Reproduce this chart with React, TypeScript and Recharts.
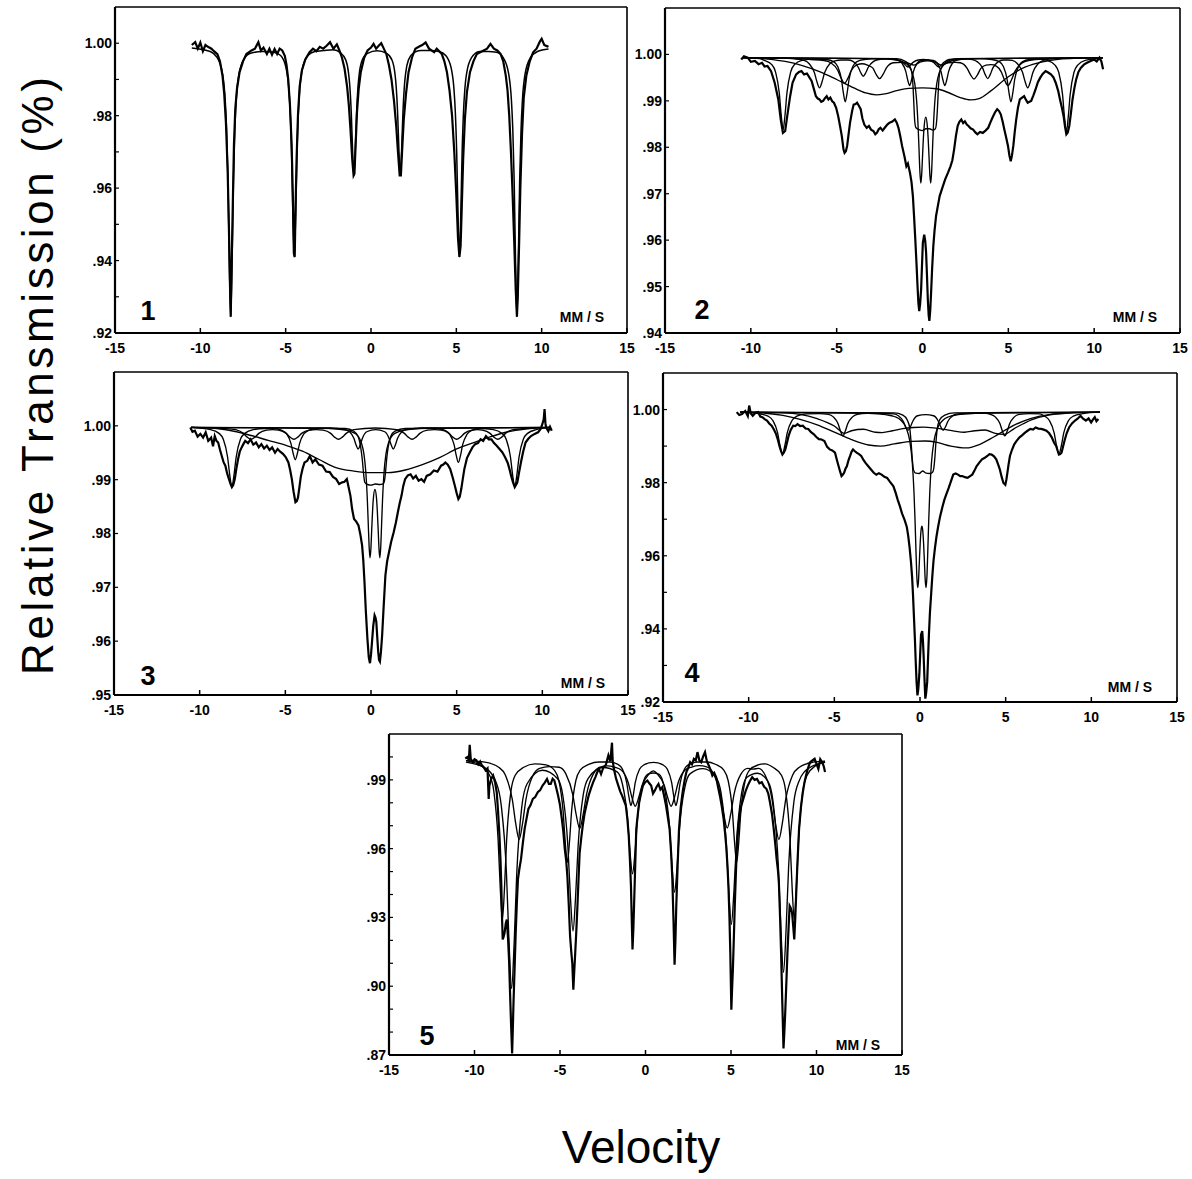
import React from 'react';
import { LineChart, Line, XAxis, YAxis } from 'recharts';

type Pt = [number, number];

// ---------- Panel 1 ----------
const p1Data: Pt[] = [
[-10.5,0.9995],[-10.3,1.0003],[-10.15,0.9985],[-10.0,1.0002],[-9.85,0.9978],[-9.7,0.9995],[-9.55,0.999],[-9.35,0.9985],[-9.2,0.9978],[-9.0,0.997],[-8.85,0.995],[-8.7,0.991],[-8.6,0.986],[-8.5,0.978],[-8.4,0.965],[-8.33,0.95],[-8.27,0.935],[-8.22,0.9245],[-8.17,0.938],[-8.1,0.955],[-8.03,0.972],[-7.95,0.982],[-7.85,0.9875],[-7.7,0.992],[-7.5,0.995],[-7.3,0.997],[-7.0,0.998],[-6.8,0.9985],[-6.6,1.0003],[-6.45,0.998],[-6.3,0.9988],[-6.1,0.997],[-5.95,0.9985],[-5.8,0.9968],[-5.65,0.9984],[-5.5,0.997],[-5.35,0.9985],[-5.2,0.998],[-5.05,0.9965],[-4.95,0.994],[-4.85,0.99],[-4.75,0.983],[-4.65,0.972],[-4.58,0.958],[-4.52,0.942],[-4.47,0.941],[-4.42,0.955],[-4.36,0.968],[-4.28,0.98],[-4.18,0.988],[-4.05,0.9925],[-3.85,0.9955],[-3.6,0.9975],[-3.4,0.9985],[-3.2,0.9978],[-3.0,0.999],[-2.8,0.9985],[-2.6,0.9993],[-2.4,1.0003],[-2.2,0.9985],[-2.0,0.9997],[-1.85,0.998],[-1.7,0.996],[-1.55,0.993],[-1.4,0.988],[-1.3,0.983],[-1.2,0.976],[-1.1,0.968],[-1.02,0.9635],[-0.97,0.964],[-0.9,0.972],[-0.82,0.981],[-0.72,0.9875],[-0.6,0.992],[-0.4,0.996],[-0.2,0.998],[0.0,0.9988],[0.15,0.9998],[0.3,0.9985],[0.45,0.9993],[0.6,1.0],[0.75,0.9985],[0.9,0.997],[1.05,0.994],[1.2,0.99],[1.35,0.984],[1.48,0.977],[1.58,0.97],[1.68,0.9635],[1.75,0.9635],[1.82,0.97],[1.92,0.979],[2.05,0.986],[2.2,0.992],[2.4,0.996],[2.6,0.9985],[2.8,0.999],[3.0,0.9995],[3.2,1.0002],[3.4,0.9985],[3.55,0.998],[3.7,0.9975],[3.85,0.9985],[4.0,0.9978],[4.15,0.997],[4.3,0.995],[4.45,0.992],[4.6,0.987],[4.75,0.98],[4.88,0.97],[5.0,0.958],[5.1,0.946],[5.18,0.941],[5.25,0.944],[5.32,0.955],[5.4,0.968],[5.5,0.979],[5.62,0.9865],[5.8,0.992],[6.0,0.995],[6.2,0.997],[6.4,0.9975],[6.6,0.998],[6.8,0.9985],[7.0,0.9998],[7.2,0.9985],[7.4,0.998],[7.6,0.997],[7.75,0.995],[7.9,0.991],[8.0,0.987],[8.1,0.98],[8.2,0.97],[8.3,0.958],[8.4,0.944],[8.48,0.932],[8.55,0.9245],[8.6,0.93],[8.68,0.945],[8.75,0.96],[8.85,0.975],[8.95,0.985],[9.1,0.991],[9.3,0.995],[9.5,0.9975],[9.7,0.9985],[9.9,1.0005],[10.0,1.0012],[10.15,0.9995],[10.3,0.9992],[10.4,0.999]
];
const p1Fit: Pt[] = [
[-10.5,0.9987],[-9.42,0.9977],[-9.02,0.9961],[-8.7,0.9916],[-8.54,0.9841],[-8.46,0.976],[-8.38,0.9618],[-8.3,0.9394],[-8.22,0.9245],[-8.14,0.9394],[-8.06,0.9618],[-7.98,0.976],[-7.9,0.9841],[-7.74,0.9915],[-7.42,0.9958],[-7.02,0.9973],[-6.36,0.9977],[-5.695,0.9975],[-5.295,0.9966],[-4.975,0.9931],[-4.815,0.9874],[-4.735,0.9811],[-4.655,0.97],[-4.575,0.9526],[-4.495,0.941],[-4.415,0.9526],[-4.335,0.97],[-4.255,0.9811],[-4.175,0.9874],[-4.015,0.9931],[-3.695,0.9966],[-3.295,0.9977],[-2.75,0.998],[-2.2,0.9982],[-1.8,0.9974],[-1.48,0.9954],[-1.32,0.9919],[-1.24,0.9881],[-1.16,0.9813],[-1.08,0.9706],[-1.0,0.9635],[-0.92,0.9706],[-0.84,0.9813],[-0.76,0.9881],[-0.68,0.9919],[-0.52,0.9953],[-0.2,0.9972],[0.36,0.9979],[0.915,0.9972],[1.235,0.9953],[1.395,0.9919],[1.475,0.9881],[1.555,0.9813],[1.635,0.9706],[1.715,0.9635],[1.795,0.9706],[1.875,0.9813],[1.955,0.9881],[2.035,0.9919],[2.195,0.9954],[2.515,0.9974],[2.915,0.998],[3.45,0.998],[3.98,0.9977],[4.38,0.9966],[4.7,0.9931],[4.86,0.9874],[4.94,0.9811],[5.02,0.97],[5.1,0.9526],[5.18,0.941],[5.26,0.9526],[5.34,0.97],[5.42,0.9811],[5.5,0.9874],[5.66,0.9931],[5.98,0.9966],[6.38,0.9977],[6.87,0.9977],[7.35,0.9975],[7.75,0.996],[8.07,0.9915],[8.23,0.9841],[8.31,0.976],[8.39,0.9618],[8.47,0.9394],[8.55,0.9245],[8.63,0.9394],[8.71,0.9618],[8.79,0.976],[8.87,0.9841],[9.03,0.9916],[9.35,0.9961],[9.75,0.9977],[10.4,0.9984]
];

// ---------- Panel 2 ----------
const p2Data: Pt[] = [
[-10.56,0.9989],[-10.4,0.9996],[-10.18,0.9993],[-10.0,0.9984],[-9.76,0.9986],[-9.55,0.9979],[-9.35,0.9982],[-9.2,0.9974],[-9.03,0.9975],[-8.82,0.9964],[-8.61,0.9939],[-8.4,0.9903],[-8.26,0.986],[-8.13,0.9831],[-8.0,0.9835],[-7.88,0.9867],[-7.71,0.991],[-7.57,0.9939],[-7.36,0.9957],[-7.2,0.9962],[-7.05,0.9964],[-6.9,0.9957],[-6.73,0.9959],[-6.6,0.9951],[-6.46,0.9943],[-6.3,0.9922],[-6.21,0.991],[-6.1,0.9905],[-6.0,0.9903],[-5.9,0.9898],[-5.79,0.99],[-5.68,0.9906],[-5.58,0.991],[-5.48,0.9903],[-5.37,0.9907],[-5.26,0.9899],[-5.16,0.9896],[-5.03,0.9885],[-4.91,0.9867],[-4.8,0.9845],[-4.7,0.9824],[-4.6,0.9795],[-4.54,0.9788],[-4.46,0.9792],[-4.39,0.9803],[-4.3,0.983],[-4.22,0.9853],[-4.1,0.9878],[-4.01,0.9892],[-3.9,0.9893],[-3.81,0.9896],[-3.7,0.9889],[-3.6,0.9882],[-3.5,0.9862],[-3.39,0.9849],[-3.25,0.9842],[-3.12,0.9846],[-3.0,0.9838],[-2.86,0.9835],[-2.75,0.9828],[-2.66,0.9831],[-2.55,0.9839],[-2.45,0.9842],[-2.32,0.9836],[-2.2,0.9842],[-2.05,0.9849],[-1.92,0.9853],[-1.78,0.9855],[-1.61,0.986],[-1.5,0.9853],[-1.4,0.9842],[-1.3,0.9825],[-1.19,0.9803],[-1.05,0.978],[-0.94,0.9759],[-0.85,0.9765],[-0.73,0.9745],[-0.64,0.9725],[-0.56,0.9695],[-0.49,0.965],[-0.42,0.9602],[-0.35,0.955],[-0.29,0.9501],[-0.24,0.9465],[-0.19,0.9447],[-0.14,0.9462],[-0.08,0.9494],[-0.03,0.9545],[0.02,0.9594],[0.1,0.9612],[0.16,0.9598],[0.21,0.9573],[0.26,0.9525],[0.31,0.9472],[0.36,0.9438],[0.4,0.9426],[0.45,0.9448],[0.5,0.9487],[0.56,0.9538],[0.63,0.9587],[0.7,0.962],[0.79,0.9652],[0.9,0.9675],[1.0,0.9695],[1.15,0.9712],[1.32,0.9731],[1.48,0.9745],[1.63,0.9759],[1.74,0.9772],[1.84,0.9795],[1.95,0.9825],[2.05,0.9846],[2.15,0.9855],[2.26,0.986],[2.37,0.9852],[2.47,0.9856],[2.58,0.9849],[2.68,0.9846],[2.8,0.9841],[2.95,0.9838],[3.08,0.9832],[3.2,0.9828],[3.35,0.9833],[3.51,0.9831],[3.67,0.9836],[3.83,0.9842],[3.95,0.9853],[4.08,0.9864],[4.22,0.9875],[4.35,0.9882],[4.46,0.9878],[4.56,0.9871],[4.67,0.9855],[4.77,0.9838],[4.88,0.982],[4.98,0.9803],[5.06,0.9783],[5.14,0.977],[5.21,0.9782],[5.29,0.9803],[5.37,0.9832],[5.46,0.986],[5.56,0.9885],[5.67,0.9903],[5.8,0.9907],[5.92,0.991],[6.03,0.9902],[6.13,0.9896],[6.23,0.9898],[6.33,0.99],[6.46,0.9912],[6.59,0.9925],[6.72,0.994],[6.86,0.995],[7.0,0.9958],[7.17,0.9964],[7.32,0.9961],[7.48,0.9957],[7.62,0.9951],[7.76,0.9939],[7.9,0.9922],[8.01,0.9903],[8.12,0.9885],[8.22,0.9867],[8.3,0.9845],[8.38,0.9828],[8.46,0.9832],[8.55,0.9846],[8.64,0.9872],[8.74,0.9903],[8.85,0.9928],[8.95,0.9946],[9.08,0.9962],[9.22,0.9971],[9.4,0.9978],[9.58,0.9982],[9.8,0.9986],[10.0,0.9989],[10.15,0.9985],[10.31,0.9993],[10.42,0.9985],[10.52,0.9968]
];
const p2SextetA: Pt[] = [
[-10.5,0.9993],[-9.5,0.9991],[-9.22,0.9987],[-8.78,0.9978],[-8.56,0.9962],[-8.34,0.9916],[-8.23,0.9869],[-8.12,0.9838],[-8.01,0.9869],[-7.9,0.9916],[-7.68,0.9962],[-7.46,0.9978],[-7.02,0.9987],[-6.3,0.999],[-5.6,0.9989],[-5.16,0.9984],[-4.94,0.9974],[-4.72,0.9946],[-4.61,0.9917],[-4.5,0.9898],[-4.39,0.9917],[-4.28,0.9946],[-4.06,0.9974],[-3.84,0.9984],[-3.4,0.9989],[-2.6,0.9991],[-1.85,0.999],[-1.41,0.9987],[-1.19,0.9981],[-0.97,0.9963],[-0.86,0.9945],[-0.75,0.9933],[-0.64,0.9945],[-0.53,0.9963],[-0.31,0.9981],[-0.09,0.9987],[0.275,0.9988],[0.64,0.9987],[0.86,0.9981],[1.08,0.9963],[1.19,0.9945],[1.3,0.9933],[1.41,0.9945],[1.52,0.9963],[1.74,0.9981],[1.96,0.9987],[2.4,0.999],[3.3,0.9991],[4.05,0.9989],[4.49,0.9984],[4.71,0.9974],[4.93,0.9946],[5.04,0.9917],[5.15,0.9898],[5.26,0.9917],[5.37,0.9946],[5.59,0.9974],[5.81,0.9984],[6.25,0.9989],[6.8,0.999],[7.28,0.9987],[7.72,0.9977],[7.94,0.9961],[8.16,0.9913],[8.27,0.9865],[8.38,0.9833],[8.49,0.9865],[8.6,0.9913],[8.82,0.9961],[9.04,0.9977],[9.48,0.9987],[10.5,0.9992]
];
const p2SextetB: Pt[] = [
[-10.5,0.9993],[-8,0.9992],[-7.5,0.9991],[-6.9,0.9987],[-6.6,0.998],[-6.3,0.9961],[-6.15,0.9941],[-6.0,0.9928],[-5.85,0.9941],[-5.7,0.9961],[-5.4,0.998],[-5.1,0.9986],[-4.73,0.9988],[-4.35,0.9988],[-4.05,0.9985],[-3.75,0.9973],[-3.6,0.9961],[-3.45,0.9953],[-3.3,0.9961],[-3.15,0.9973],[-2.85,0.9985],[-2.55,0.9989],[-1.9,0.9991],[-1.45,0.9989],[-1.15,0.9983],[-0.85,0.9973],[-0.55,0.9983],[-0.25,0.9988],[0.05,0.9989],[0.35,0.9988],[0.65,0.9983],[0.95,0.9973],[1.25,0.9983],[1.55,0.9989],[2.4,0.9991],[2.9,0.9989],[3.2,0.9984],[3.5,0.9971],[3.65,0.9957],[3.8,0.9948],[3.95,0.9957],[4.1,0.9971],[4.4,0.9984],[4.7,0.9988],[4.97,0.9988],[5.23,0.9987],[5.53,0.998],[5.83,0.9961],[5.98,0.9941],[6.13,0.9928],[6.28,0.9941],[6.43,0.9961],[6.73,0.998],[7.03,0.9987],[7.6,0.9991],[10.5,0.9993]
];
const p2SextetC: Pt[] = [
[-10.5,0.9993],[-7.5,0.9991],[-6.5,0.9989],[-5.74,0.9987],[-5.34,0.9982],[-4.94,0.9966],[-4.74,0.9949],[-4.54,0.9938],[-4.34,0.9949],[-4.14,0.9966],[-3.8,0.9978],[-3.52,0.998],[-3.2,0.9977],[-2.9,0.9971],[-2.7,0.9957],[-2.5,0.9948],[-2.3,0.9957],[-2.1,0.9971],[-1.7,0.9982],[-1.2,0.9983],[-0.9,0.9982],[-0.5,0.9977],[-0.1,0.9984],[0.3,0.9986],[0.7,0.9984],[1.1,0.9977],[1.5,0.9982],[1.9,0.9983],[2.2,0.9982],[2.6,0.997],[2.8,0.9956],[3.0,0.9947],[3.2,0.9956],[3.4,0.997],[3.7,0.9977],[3.99,0.9978],[4.3,0.9975],[4.58,0.9963],[4.78,0.9945],[4.98,0.9933],[5.18,0.9945],[5.38,0.9963],[5.78,0.9981],[6.18,0.9987],[7.2,0.999],[10.5,0.9993]
];
const p2Broad: Pt[] = [
[-10.5,0.9993],[-9,0.999],[-8,0.9985],[-7,0.9976],[-6,0.9963],[-5,0.9946],[-4,0.9928],[-3.3,0.9917],[-2.7,0.9913],[-2.2,0.9915],[-1.5,0.9922],[-0.8,0.9927],[0,0.9928],[0.8,0.9926],[1.5,0.9918],[2.2,0.9907],[2.8,0.9902],[3.3,0.9905],[4,0.9922],[5,0.9952],[6,0.9973],[7,0.9984],[8,0.999],[9,0.9992],[10.5,0.9993]
];
const p2Wide: Pt[] = [
[-10.5,0.9993],[-1.5,0.9991],[-1.0,0.9985],[-0.75,0.9975],[-0.62,0.996],[-0.55,0.993],[-0.5,0.989],[-0.45,0.9855],[-0.38,0.9842],[-0.2,0.9838],[0.0,0.9836],[0.2,0.984],[0.4,0.984],[0.6,0.9837],[0.75,0.984],[0.82,0.9855],[0.88,0.989],[0.93,0.993],[1.0,0.996],[1.15,0.9975],[1.45,0.9985],[2.0,0.9991],[10.5,0.9993]
];
const p2Narrow: Pt[] = [
[-10.5,0.9993],[-3,0.9991],[-2,0.999],[-1.5,0.9988],[-1.1,0.9983],[-0.8,0.9975],[-0.6,0.9961],[-0.45,0.9937],[-0.35,0.9904],[-0.25,0.984],[-0.2,0.9793],[-0.15,0.9746],[-0.1,0.9723],[-0.05,0.974],[0.0,0.9779],[0.05,0.9819],[0.1,0.9846],[0.19,0.9865],[0.28,0.9846],[0.33,0.9819],[0.38,0.9779],[0.43,0.974],[0.48,0.9723],[0.53,0.9746],[0.58,0.9793],[0.63,0.984],[0.73,0.9904],[0.83,0.9937],[0.98,0.9961],[1.18,0.9975],[1.48,0.9983],[1.88,0.9988],[2.38,0.999],[3.38,0.9991],[10.5,0.9993]
];

// ---------- Panel 3 ----------
const p3Data: Pt[] = [
[-10.55,0.9997],[-10.42,0.9989],[-10.28,0.9991],[-10.12,0.998],[-9.96,0.9985],[-9.8,0.9978],[-9.65,0.9988],[-9.5,0.9972],[-9.33,0.9978],[-9.22,0.9962],[-9.12,0.9981],[-9.02,0.9972],[-8.92,0.9969],[-8.81,0.9955],[-8.71,0.9944],[-8.6,0.9932],[-8.5,0.9926],[-8.4,0.9912],[-8.29,0.9901],[-8.2,0.9892],[-8.12,0.9886],[-8.04,0.989],[-7.95,0.9901],[-7.86,0.992],[-7.76,0.9938],[-7.66,0.9952],[-7.55,0.996],[-7.45,0.9966],[-7.34,0.9972],[-7.18,0.9968],[-7.03,0.9975],[-6.87,0.9965],[-6.71,0.9969],[-6.55,0.996],[-6.4,0.9966],[-6.24,0.9958],[-6.08,0.9963],[-5.92,0.9955],[-5.77,0.996],[-5.6,0.995],[-5.45,0.9957],[-5.3,0.9952],[-5.14,0.9948],[-4.98,0.9942],[-4.82,0.9932],[-4.72,0.9918],[-4.62,0.9901],[-4.52,0.9878],[-4.41,0.9858],[-4.33,0.986],[-4.26,0.9867],[-4.17,0.9888],[-4.09,0.9907],[-3.98,0.9922],[-3.88,0.9932],[-3.72,0.9935],[-3.57,0.9944],[-3.41,0.9932],[-3.25,0.9938],[-3.04,0.9928],[-2.83,0.9926],[-2.62,0.9915],[-2.41,0.9914],[-2.22,0.9905],[-2.03,0.9901],[-1.86,0.9892],[-1.68,0.9895],[-1.55,0.9896],[-1.41,0.9901],[-1.3,0.9885],[-1.2,0.987],[-1.1,0.9845],[-0.99,0.9827],[-0.86,0.9822],[-0.73,0.9815],[-0.62,0.9798],[-0.52,0.9778],[-0.45,0.975],[-0.38,0.971],[-0.3,0.9655],[-0.21,0.9605],[-0.13,0.957],[-0.06,0.9559],[0.0,0.9575],[0.06,0.9599],[0.13,0.9628],[0.21,0.9648],[0.26,0.9644],[0.31,0.9636],[0.37,0.9605],[0.42,0.958],[0.47,0.9565],[0.52,0.9562],[0.58,0.958],[0.65,0.9611],[0.74,0.9665],[0.84,0.9722],[0.94,0.9748],[1.05,0.9765],[1.18,0.9785],[1.32,0.9802],[1.45,0.982],[1.57,0.984],[1.68,0.9857],[1.78,0.987],[1.88,0.9888],[1.99,0.9901],[2.15,0.9908],[2.31,0.991],[2.46,0.9902],[2.62,0.9907],[2.78,0.9898],[2.94,0.9901],[3.1,0.9896],[3.25,0.9907],[3.46,0.991],[3.67,0.9917],[3.88,0.9915],[4.09,0.9926],[4.22,0.9928],[4.34,0.9932],[4.48,0.9928],[4.62,0.992],[4.76,0.9905],[4.89,0.9889],[5.0,0.9875],[5.1,0.9864],[5.18,0.9868],[5.27,0.9883],[5.36,0.9902],[5.45,0.992],[5.6,0.994],[5.77,0.9951],[5.92,0.996],[6.08,0.9966],[6.24,0.9968],[6.4,0.9975],[6.55,0.9972],[6.71,0.9981],[6.87,0.9975],[7.03,0.9975],[7.18,0.9968],[7.34,0.9963],[7.5,0.9957],[7.66,0.9951],[7.82,0.9942],[7.97,0.9932],[8.08,0.992],[8.18,0.9907],[8.29,0.9895],[8.39,0.9886],[8.46,0.989],[8.54,0.9895],[8.64,0.9913],[8.75,0.9932],[8.88,0.9952],[9.02,0.9969],[9.18,0.9976],[9.34,0.9981],[9.55,0.9985],[9.75,0.9988],[9.9,0.9994],[10.0,1.0003],[10.08,1.0012],[10.13,1.0031],[10.18,1.0005],[10.22,0.9997],[10.35,0.999],[10.45,0.9998],[10.55,0.9991]
];
const p3SextetA: Pt[] = [
[-10.5,0.9997],[-9.37,0.9993],[-8.87,0.9986],[-8.62,0.9975],[-8.37,0.9942],[-8.245,0.9909],[-8.12,0.9887],[-7.995,0.9909],[-7.87,0.9942],[-7.62,0.9975],[-7.37,0.9986],[-6.87,0.9993],[-6.2,0.9995],[-5.67,0.9995],[-5.17,0.9991],[-4.92,0.9985],[-4.67,0.9967],[-4.545,0.9949],[-4.42,0.9937],[-4.295,0.9949],[-4.17,0.9967],[-3.92,0.9985],[-3.67,0.9991],[-3.17,0.9995],[-2.4,0.9996],[-1.5,0.9993],[-1.25,0.9989],[-1.0,0.9977],[-0.875,0.9965],[-0.75,0.9957],[-0.625,0.9965],[-0.5,0.9977],[-0.25,0.9989],[0.275,0.9993],[0.8,0.9989],[1.05,0.9977],[1.175,0.9965],[1.3,0.9957],[1.425,0.9965],[1.55,0.9977],[1.8,0.9989],[2.05,0.9993],[3.0,0.9996],[3.85,0.9995],[4.35,0.9991],[4.6,0.9984],[4.85,0.9965],[4.975,0.9945],[5.1,0.9932],[5.225,0.9945],[5.35,0.9965],[5.6,0.9984],[5.85,0.9991],[6.35,0.9995],[7.14,0.9993],[7.64,0.9986],[7.89,0.9975],[8.14,0.9942],[8.265,0.9909],[8.39,0.9887],[8.515,0.9909],[8.64,0.9942],[8.89,0.9975],[9.14,0.9986],[9.64,0.9993],[10.5,0.9997]
];
const p3SextetB: Pt[] = [
[-10.5,0.9997],[-8.5,0.9995],[-7.9,0.9993],[-7.45,0.9986],[-7.225,0.9979],[-7.0,0.9975],[-6.775,0.9979],[-6.55,0.9986],[-6.1,0.9992],[-5.75,0.9993],[-5.4,0.9992],[-4.95,0.9986],[-4.725,0.9979],[-4.5,0.9975],[-4.275,0.9979],[-4.05,0.9986],[-3.6,0.9992],[-3.2,0.9993],[-2.8,0.9992],[-2.35,0.9986],[-2.125,0.9979],[-1.9,0.9975],[-1.675,0.9979],[-1.45,0.9986],[-1.0,0.9993],[0.25,0.9996],[1.5,0.9993],[1.95,0.9986],[2.175,0.9979],[2.4,0.9975],[2.625,0.9979],[2.85,0.9986],[3.3,0.9992],[3.7,0.9993],[4.1,0.9992],[4.55,0.9986],[4.775,0.9979],[5.0,0.9975],[5.225,0.9979],[5.45,0.9986],[5.9,0.9992],[6.2,0.9993],[6.5,0.9992],[6.95,0.9986],[7.175,0.9979],[7.4,0.9975],[7.625,0.9979],[7.85,0.9986],[8.3,0.9993],[9,0.9995],[10.5,0.9997]
];
const p3Broad: Pt[] = [
[-10.5,0.9997],[-9,0.9995],[-8,0.999],[-7,0.9982],[-6,0.9973],[-5,0.9964],[-4,0.9953],[-3,0.9937],[-2,0.9922],[-1,0.9916],[0,0.9913],[1,0.9913],[2,0.9918],[3,0.9928],[4,0.9941],[5,0.9957],[6,0.9969],[7,0.998],[8,0.9989],[9,0.9994],[10.5,0.9997]
];
const p3Wide: Pt[] = [
[-10.5,0.9997],[-1.5,0.9995],[-1.0,0.999],[-0.75,0.998],[-0.6,0.996],[-0.5,0.9935],[-0.43,0.991],[-0.36,0.9895],[-0.2,0.9891],[0.0,0.989],[0.25,0.9892],[0.5,0.9891],[0.7,0.9892],[0.78,0.9897],[0.85,0.9915],[0.92,0.994],[1.0,0.996],[1.15,0.998],[1.4,0.999],[2.0,0.9995],[10.5,0.9997]
];
const p3Narrow: Pt[] = [
[-10.5,0.9997],[-2.96,0.9996],[-1.96,0.9994],[-1.46,0.9992],[-1.06,0.9988],[-0.76,0.9981],[-0.56,0.9968],[-0.41,0.9947],[-0.31,0.9917],[-0.21,0.986],[-0.16,0.9818],[-0.11,0.9776],[-0.06,0.9755],[-0.01,0.977],[0.04,0.9806],[0.09,0.9841],[0.14,0.9866],[0.23,0.9882],[0.32,0.9866],[0.37,0.9841],[0.42,0.9806],[0.47,0.977],[0.52,0.9755],[0.57,0.9776],[0.62,0.9818],[0.67,0.986],[0.77,0.9917],[0.87,0.9947],[1.02,0.9968],[1.22,0.9981],[1.52,0.9988],[1.92,0.9992],[2.42,0.9994],[3.42,0.9996],[10.5,0.9997]
];

// ---------- Panel 4 ----------
const p4Data: Pt[] = [
[-10.7,0.9993],[-10.55,0.9985],[-10.39,0.9988],[-10.2,0.9996],[-10.05,0.9982],[-9.97,1.0011],[-9.88,0.999],[-9.76,0.9983],[-9.6,0.9991],[-9.45,0.9993],[-9.32,0.9981],[-9.2,0.9979],[-9.05,0.9973],[-8.93,0.997],[-8.8,0.9962],[-8.66,0.9956],[-8.52,0.9945],[-8.4,0.9933],[-8.3,0.9918],[-8.2,0.99],[-8.11,0.9886],[-8.03,0.9877],[-7.95,0.9882],[-7.86,0.9891],[-7.76,0.991],[-7.67,0.9928],[-7.54,0.9945],[-7.4,0.9956],[-7.28,0.9955],[-7.15,0.996],[-7.0,0.9955],[-6.84,0.9956],[-6.68,0.9948],[-6.52,0.9947],[-6.36,0.9938],[-6.21,0.9933],[-6.05,0.9925],[-5.9,0.9919],[-5.74,0.9918],[-5.58,0.9914],[-5.42,0.9898],[-5.27,0.9891],[-5.12,0.9888],[-4.96,0.9882],[-4.85,0.9862],[-4.75,0.9845],[-4.66,0.983],[-4.58,0.9818],[-4.5,0.9822],[-4.43,0.9827],[-4.35,0.9838],[-4.27,0.9845],[-4.17,0.9862],[-4.08,0.9873],[-3.99,0.9885],[-3.91,0.9891],[-3.8,0.9886],[-3.7,0.9882],[-3.56,0.9878],[-3.43,0.9873],[-3.3,0.9862],[-3.18,0.9854],[-3.02,0.9845],[-2.86,0.9836],[-2.7,0.9827],[-2.55,0.9822],[-2.4,0.9826],[-2.24,0.9822],[-2.08,0.9816],[-1.92,0.9813],[-1.75,0.9802],[-1.55,0.979],[-1.42,0.9772],[-1.3,0.9753],[-1.17,0.9735],[-1.05,0.9716],[-0.9,0.9698],[-0.77,0.9679],[-0.69,0.9655],[-0.61,0.9624],[-0.53,0.9585],[-0.46,0.9541],[-0.41,0.9495],[-0.36,0.944],[-0.3,0.9375],[-0.25,0.9311],[-0.2,0.9255],[-0.15,0.9218],[-0.1,0.9235],[-0.04,0.9274],[0.01,0.933],[0.06,0.9384],[0.13,0.9394],[0.17,0.9368],[0.21,0.9329],[0.26,0.9265],[0.31,0.9209],[0.36,0.9225],[0.42,0.9255],[0.47,0.932],[0.52,0.9384],[0.58,0.9445],[0.65,0.9495],[0.72,0.9545],[0.79,0.9587],[0.87,0.962],[0.96,0.9652],[1.06,0.968],[1.17,0.9707],[1.3,0.9732],[1.42,0.9753],[1.55,0.977],[1.67,0.9785],[1.8,0.9803],[1.94,0.9822],[2.08,0.9825],[2.22,0.9822],[2.35,0.9818],[2.47,0.9818],[2.62,0.9815],[2.78,0.9813],[2.92,0.9818],[3.05,0.9822],[3.18,0.9833],[3.3,0.9845],[3.46,0.9855],[3.62,0.9864],[3.78,0.9868],[3.93,0.9873],[4.05,0.9878],[4.18,0.9877],[4.32,0.9872],[4.45,0.9864],[4.56,0.985],[4.66,0.9836],[4.77,0.9815],[4.87,0.9799],[4.98,0.9794],[5.04,0.9808],[5.1,0.9827],[5.17,0.985],[5.25,0.9873],[5.37,0.989],[5.5,0.9905],[5.65,0.9915],[5.81,0.9924],[5.97,0.993],[6.13,0.9937],[6.28,0.9942],[6.44,0.9947],[6.6,0.9945],[6.75,0.9951],[6.91,0.9948],[7.07,0.9947],[7.22,0.9945],[7.38,0.9942],[7.54,0.9935],[7.69,0.9924],[7.82,0.991],[7.95,0.99],[8.03,0.9888],[8.11,0.9877],[8.18,0.9878],[8.26,0.9882],[8.34,0.9897],[8.43,0.9914],[8.56,0.9935],[8.7,0.9951],[8.87,0.9962],[9.05,0.997],[9.2,0.9975],[9.37,0.9983],[9.52,0.9975],[9.68,0.997],[9.84,0.9976],[9.99,0.9965],[10.1,0.9973],[10.2,0.9979],[10.3,0.9968],[10.41,0.9974]
];
const p4SextetA: Pt[] = [
[-10.5,0.9993],[-9.43,0.9989],[-8.87,0.9982],[-8.59,0.997],[-8.31,0.9936],[-8.17,0.9901],[-8.03,0.9878],[-7.89,0.9901],[-7.75,0.9936],[-7.47,0.997],[-7.19,0.9982],[-6.63,0.9988],[-5.9,0.9989],[-5.34,0.9987],[-5.06,0.998],[-4.78,0.9961],[-4.64,0.9941],[-4.5,0.9928],[-4.36,0.9941],[-4.22,0.9961],[-3.94,0.998],[-3.66,0.9987],[-3.1,0.999],[-2.3,0.999],[-1.54,0.9988],[-1.26,0.9983],[-0.98,0.9968],[-0.84,0.9953],[-0.7,0.9943],[-0.56,0.9953],[-0.42,0.9968],[-0.14,0.9983],[0.325,0.9986],[0.79,0.9983],[1.07,0.9968],[1.21,0.9953],[1.35,0.9943],[1.49,0.9953],[1.63,0.9968],[1.91,0.9983],[2.19,0.9988],[3.2,0.999],[3.85,0.999],[4.11,0.9987],[4.39,0.998],[4.67,0.9961],[4.81,0.9941],[4.95,0.9928],[5.09,0.9941],[5.23,0.9961],[5.51,0.998],[5.79,0.9987],[6.4,0.9989],[7.0,0.9988],[7.27,0.9982],[7.55,0.997],[7.83,0.9936],[7.97,0.9901],[8.11,0.9878],[8.25,0.9901],[8.39,0.9936],[8.67,0.997],[8.95,0.9982],[9.51,0.9989],[10.5,0.9993]
];
const p4SextetB: Pt[] = [
[-10.5,0.9993],[-8,0.9991],[-7,0.9987],[-6,0.9975],[-5,0.9955],[-4.4,0.9935],[-4.0,0.9942],[-3.3,0.9946],[-2.6,0.9938],[-2.2,0.9937],[-1.6,0.9942],[-1.0,0.9948],[-0.4,0.9951],[0.2,0.9952],[0.8,0.995],[1.4,0.9946],[2.0,0.9941],[2.6,0.9938],[3.2,0.9942],[3.8,0.9944],[4.4,0.9935],[4.9,0.9932],[5.5,0.9948],[6.5,0.9972],[7.5,0.9985],[8.5,0.999],[10.5,0.9993]
];
const p4Broad: Pt[] = [
[-10.5,0.9993],[-9,0.999],[-8,0.9984],[-7,0.9973],[-6,0.9958],[-5,0.9938],[-4,0.9918],[-3,0.9903],[-2.3,0.99],[-1.5,0.9906],[-0.5,0.9913],[0.3,0.9914],[1.0,0.991],[1.8,0.99],[2.7,0.9895],[3.5,0.9905],[4.3,0.9925],[5.2,0.995],[6,0.9968],[7,0.9982],[8,0.9989],[9,0.9992],[10.5,0.9993]
];
const p4Wide: Pt[] = [
[-10.5,0.9993],[-1.5,0.9991],[-1.0,0.9985],[-0.75,0.9972],[-0.6,0.995],[-0.52,0.991],[-0.45,0.9865],[-0.38,0.9835],[-0.25,0.9826],[-0.05,0.9825],[0.15,0.9832],[0.35,0.9826],[0.55,0.9825],[0.72,0.9828],[0.8,0.9838],[0.87,0.987],[0.93,0.991],[1.0,0.9945],[1.15,0.9972],[1.45,0.9985],[2.0,0.9991],[10.5,0.9993]
];
const p4Narrow: Pt[] = [
[-10.5,0.9993],[-3.0,0.999],[-2.0,0.9986],[-1.5,0.9981],[-1.1,0.997],[-0.8,0.9949],[-0.6,0.9915],[-0.45,0.9855],[-0.35,0.9773],[-0.29,0.9697],[-0.24,0.9621],[-0.19,0.9549],[-0.14,0.9513],[-0.09,0.953],[-0.04,0.9581],[0.01,0.9633],[0.06,0.9669],[0.11,0.9681],[0.16,0.9669],[0.21,0.9633],[0.26,0.9581],[0.31,0.953],[0.36,0.9513],[0.41,0.9549],[0.46,0.9621],[0.51,0.9697],[0.57,0.9773],[0.67,0.9855],[0.82,0.9915],[1.02,0.9949],[1.32,0.997],[1.72,0.9981],[2.22,0.9986],[3.22,0.999],[10.5,0.9993]
];

// ---------- Panel 5 ----------
const p5Data: Pt[] = [
[-10.54,0.9993],[-10.42,0.9999],[-10.33,0.9985],[-10.28,1.0053],[-10.22,0.9992],[-10.1,0.9978],[-10.0,0.999],[-9.89,0.9985],[-9.78,0.9968],[-9.67,0.998],[-9.57,0.9963],[-9.46,0.9955],[-9.35,0.9941],[-9.24,0.995],[-9.17,0.9817],[-9.13,0.9875],[-9.02,0.9905],[-8.91,0.9919],[-8.8,0.989],[-8.7,0.9846],[-8.62,0.976],[-8.54,0.9656],[-8.48,0.955],[-8.43,0.9437],[-8.39,0.93],[-8.35,0.9204],[-8.3,0.9215],[-8.24,0.9233],[-8.17,0.9275],[-8.11,0.9291],[-8.04,0.921],[-7.98,0.9116],[-7.92,0.897],[-7.87,0.8853],[-7.8,0.8707],[-7.76,0.881],[-7.72,0.8926],[-7.65,0.909],[-7.59,0.9233],[-7.52,0.937],[-7.46,0.9466],[-7.38,0.951],[-7.28,0.9554],[-7.18,0.962],[-7.07,0.9685],[-6.96,0.973],[-6.85,0.9773],[-6.72,0.979],[-6.59,0.9817],[-6.45,0.9825],[-6.3,0.9846],[-6.16,0.9855],[-6.02,0.9875],[-5.89,0.9888],[-5.76,0.9904],[-5.65,0.9882],[-5.54,0.9882],[-5.43,0.9905],[-5.33,0.9897],[-5.22,0.9865],[-5.11,0.9831],[-5.0,0.979],[-4.89,0.9729],[-4.8,0.967],[-4.72,0.9598],[-4.64,0.955],[-4.57,0.9481],[-4.49,0.936],[-4.41,0.9218],[-4.34,0.915],[-4.28,0.9099],[-4.22,0.8985],[-4.17,0.906],[-4.11,0.9145],[-4.04,0.925],[-3.98,0.935],[-3.91,0.948],[-3.85,0.9583],[-3.76,0.9645],[-3.67,0.97],[-3.57,0.975],[-3.46,0.9788],[-3.33,0.983],[-3.2,0.9861],[-3.06,0.989],[-2.93,0.9912],[-2.83,0.9932],[-2.72,0.9948],[-2.6,0.9925],[-2.46,0.9955],[-2.32,0.9965],[-2.17,1.0007],[-2.06,0.998],[-1.96,1.0062],[-1.92,0.9985],[-1.85,0.9948],[-1.72,0.9905],[-1.59,0.9875],[-1.48,0.985],[-1.37,0.9831],[-1.26,0.981],[-1.15,0.9788],[-1.06,0.973],[-0.98,0.9656],[-0.91,0.955],[-0.85,0.9437],[-0.8,0.928],[-0.76,0.916],[-0.71,0.925],[-0.67,0.935],[-0.6,0.953],[-0.54,0.9685],[-0.45,0.975],[-0.37,0.9802],[-0.26,0.984],[-0.15,0.9875],[-0.02,0.989],[0.11,0.9897],[0.22,0.9885],[0.33,0.9875],[0.44,0.984],[0.54,0.9853],[0.65,0.987],[0.76,0.9882],[0.87,0.9858],[0.98,0.9868],[1.09,0.983],[1.2,0.9788],[1.3,0.974],[1.41,0.9685],[1.5,0.958],[1.57,0.9466],[1.64,0.928],[1.7,0.9094],[1.75,0.92],[1.8,0.935],[1.88,0.953],[1.96,0.9685],[2.06,0.978],[2.17,0.9846],[2.28,0.9895],[2.39,0.9934],[2.5,0.9952],[2.61,0.9977],[2.72,0.9968],[2.83,0.9992],[2.94,0.9985],[3.04,1.0021],[3.15,0.9985],[3.26,0.9977],[3.37,1.0002],[3.48,1.0021],[3.59,0.998],[3.7,0.9963],[3.8,0.9945],[3.91,0.9919],[4.02,0.993],[4.13,0.9912],[4.24,0.987],[4.35,0.9831],[4.46,0.9785],[4.57,0.9729],[4.65,0.967],[4.72,0.9612],[4.79,0.953],[4.85,0.9437],[4.91,0.93],[4.96,0.9145],[5.02,0.8897],[5.06,0.898],[5.11,0.9072],[5.17,0.922],[5.22,0.935],[5.28,0.948],[5.33,0.9583],[5.41,0.968],[5.5,0.9744],[5.61,0.979],[5.72,0.9817],[5.85,0.985],[5.98,0.9875],[6.11,0.9895],[6.24,0.9912],[6.38,0.99],[6.52,0.9904],[6.66,0.9885],[6.8,0.989],[6.94,0.987],[7.07,0.9861],[7.18,0.984],[7.28,0.9802],[7.4,0.975],[7.5,0.9685],[7.59,0.962],[7.67,0.9554],[7.74,0.951],[7.8,0.9452],[7.87,0.93],[7.93,0.9145],[8.0,0.893],[8.07,0.8729],[8.12,0.88],[8.17,0.8883],[8.24,0.902],[8.3,0.9145],[8.37,0.926],[8.43,0.935],[8.5,0.934],[8.57,0.9321],[8.64,0.926],[8.7,0.9204],[8.76,0.93],[8.83,0.9437],[8.9,0.956],[8.98,0.9685],[9.09,0.978],[9.2,0.9846],[9.3,0.989],[9.41,0.9926],[9.52,0.9955],[9.63,0.9977],[9.76,0.9985],[9.89,0.9992],[10.0,0.997],[10.11,0.9948],[10.22,0.999],[10.33,0.9977],[10.42,0.996],[10.5,0.9934]
];
const p5S1: Pt[] = [
[-10.5,0.9984],[-9.62,0.9962],[-9.12,0.992],[-8.87,0.985],[-8.62,0.964],[-8.495,0.943],[-8.37,0.929],[-8.245,0.943],[-8.12,0.964],[-7.87,0.985],[-7.62,0.992],[-7.12,0.9955],[-6.47,0.997],[-5.82,0.9965],[-5.32,0.9941],[-5.07,0.9898],[-4.82,0.9765],[-4.695,0.963],[-4.57,0.954],[-4.445,0.963],[-4.32,0.9765],[-4.07,0.9898],[-3.82,0.9942],[-3.32,0.9968],[-2.71,0.9978],[-2.1,0.9978],[-1.6,0.9967],[-1.35,0.9947],[-1.1,0.9888],[-0.975,0.9828],[-0.85,0.9788],[-0.725,0.9828],[-0.6,0.9888],[-0.35,0.9946],[-0.1,0.9965],[0.465,0.9976],[1.03,0.9965],[1.28,0.9946],[1.53,0.9888],[1.655,0.9828],[1.78,0.9788],[1.905,0.9828],[2.03,0.9888],[2.28,0.9947],[2.53,0.9967],[3.03,0.9978],[3.6,0.9978],[4.08,0.9968],[4.58,0.9942],[4.83,0.9898],[5.08,0.9765],[5.205,0.963],[5.33,0.954],[5.455,0.963],[5.58,0.9765],[5.83,0.9898],[6.08,0.9942],[6.58,0.9965],[7.0,0.997],[7.45,0.9955],[7.95,0.992],[8.2,0.985],[8.45,0.964],[8.575,0.943],[8.7,0.929],[8.825,0.943],[8.95,0.964],[9.2,0.985],[9.45,0.992],[9.95,0.9962],[10.5,0.9979]
];
const p5S2: Pt[] = [
[-10.5,0.9977],[-9.33,0.995],[-8.73,0.9888],[-8.43,0.9785],[-8.13,0.949],[-7.98,0.919],[-7.83,0.899],[-7.68,0.919],[-7.53,0.949],[-7.23,0.9785],[-6.93,0.9882],[-6.035,0.9942],[-5.14,0.9905],[-4.84,0.9835],[-4.54,0.9612],[-4.39,0.9388],[-4.24,0.924],[-4.09,0.9388],[-3.94,0.9612],[-3.64,0.9836],[-3.34,0.9908],[-2.5,0.9954],[-1.66,0.9935],[-1.36,0.9885],[-1.06,0.9738],[-0.91,0.9588],[-0.76,0.949],[-0.61,0.9588],[-0.46,0.9738],[-0.16,0.9882],[0.14,0.9925],[0.47,0.993],[0.8,0.9924],[1.1,0.9866],[1.4,0.9698],[1.55,0.9524],[1.7,0.941],[1.85,0.9524],[2.0,0.9698],[2.3,0.9866],[2.6,0.9926],[3.36,0.9949],[4.12,0.9912],[4.42,0.9842],[4.72,0.9627],[4.87,0.9412],[5.02,0.927],[5.17,0.9412],[5.32,0.9627],[5.62,0.9842],[5.92,0.991],[6.545,0.9929],[7.17,0.9892],[7.47,0.98],[7.77,0.9522],[7.92,0.9244],[8.07,0.906],[8.22,0.9244],[8.37,0.9522],[8.67,0.98],[8.97,0.9893],[9.57,0.9952],[10.5,0.9976]
];
const p5S3: Pt[] = [
[-10.5,0.9984],[-9.39,0.9977],[-8.59,0.9955],[-8.19,0.992],[-7.79,0.9815],[-7.59,0.971],[-7.39,0.964],[-7.19,0.971],[-6.99,0.9815],[-6.59,0.9918],[-6.19,0.995],[-5.62,0.9958],[-5.05,0.9955],[-4.65,0.9925],[-4.25,0.9835],[-4.05,0.9747],[-3.85,0.9688],[-3.65,0.9747],[-3.45,0.9836],[-3.05,0.9926],[-2.65,0.9955],[-2.225,0.9961],[-1.8,0.9955],[-1.4,0.9942],[-1.0,0.9885],[-0.8,0.9825],[-0.6,0.9785],[-0.4,0.9822],[-0.2,0.9875],[0.2,0.9925],[0.45,0.9939],[0.7,0.9925],[1.1,0.9875],[1.3,0.9822],[1.5,0.9785],[1.7,0.9825],[1.9,0.9885],[2.3,0.9942],[2.7,0.9956],[3.14,0.9962],[3.58,0.9957],[3.98,0.9927],[4.38,0.9838],[4.58,0.9749],[4.78,0.969],[4.98,0.9749],[5.18,0.9838],[5.58,0.9925],[5.98,0.995],[6.29,0.9947],[6.6,0.995],[7.0,0.992],[7.4,0.9815],[7.6,0.971],[7.8,0.964],[8.0,0.971],[8.2,0.9815],[8.6,0.992],[9.0,0.9955],[9.8,0.9977],[10.5,0.9982]
];

// ---------- Axis ticks ----------
const X_TICKS = [-15, -10, -5, 0, 5, 10, 15];
const P1_Y_TICKS = [0.92, 0.93, 0.94, 0.95, 0.96, 0.97, 0.98, 0.99, 1.0];
const P1_Y_LABELS = [0.92, 0.94, 0.96, 0.98, 1.0];
const P2_Y_TICKS = [0.94, 0.95, 0.96, 0.97, 0.98, 0.99, 1.0];
const P3_Y_TICKS = [0.95, 0.96, 0.97, 0.98, 0.99, 1.0];
const P4_Y_TICKS = [0.92, 0.93, 0.94, 0.95, 0.96, 0.97, 0.98, 0.99, 1.0];
const P4_Y_LABELS = [0.92, 0.94, 0.96, 0.98, 1.0];
const P5_Y_TICKS = [0.87, 0.88, 0.89, 0.9, 0.91, 0.92, 0.93, 0.94, 0.95, 0.96, 0.97, 0.98, 0.99, 1.0];
const P5_Y_LABELS = [0.87, 0.9, 0.93, 0.96, 0.99];

const TICK_FONT = "'Liberation Sans Narrow', 'Arial Narrow', 'Liberation Sans', Arial, sans-serif";
const MAIN_FONT = "'Liberation Sans', Arial, Helvetica, sans-serif";

type Series = { data: Pt[]; w: number; curve: 'linear' | 'monotone' };
type PanelSpec = {
  num: string; left: number; top: number; width: number; height: number;
  yDomain: [number, number]; yTicks: number[]; yLabels: number[];
  numX: number; numY: number; unitX: number; unitY: number;
  series: Series[];
};

const comp = (d: Pt[]): Series => ({ data: d, w: 1.35, curve: 'monotone' });
const meas = (d: Pt[]): Series => ({ data: d, w: 2.2, curve: 'linear' });

const PANELS: PanelSpec[] = [
  { num: '1', left: 115, top: 7, width: 512, height: 326, yDomain: [0.92, 1.01], yTicks: P1_Y_TICKS, yLabels: P1_Y_LABELS,
    numX: 148, numY: 320, unitX: 582, unitY: 322,
    series: [meas(p1Data), { data: p1Fit, w: 1.5, curve: 'monotone' }] },
  { num: '2', left: 665, top: 8, width: 515, height: 325, yDomain: [0.94, 1.01], yTicks: P2_Y_TICKS, yLabels: P2_Y_TICKS,
    numX: 702, numY: 319, unitX: 1135, unitY: 322,
    series: [comp(p2Broad), comp(p2SextetC), comp(p2SextetB), comp(p2SextetA), comp(p2Wide), comp(p2Narrow), meas(p2Data)] },
  { num: '3', left: 114, top: 372, width: 514, height: 323, yDomain: [0.95, 1.01], yTicks: P3_Y_TICKS, yLabels: P3_Y_TICKS,
    numX: 148, numY: 685, unitX: 583, unitY: 688,
    series: [comp(p3Broad), comp(p3SextetB), comp(p3SextetA), comp(p3Wide), comp(p3Narrow), meas(p3Data)] },
  { num: '4', left: 663, top: 373, width: 514, height: 329, yDomain: [0.92, 1.01], yTicks: P4_Y_TICKS, yLabels: P4_Y_LABELS,
    numX: 692, numY: 682, unitX: 1130, unitY: 692,
    series: [comp(p4Broad), comp(p4SextetB), comp(p4SextetA), comp(p4Wide), comp(p4Narrow), meas(p4Data)] },
  { num: '5', left: 389, top: 734, width: 513, height: 321, yDomain: [0.87, 1.01], yTicks: P5_Y_TICKS, yLabels: P5_Y_LABELS,
    numX: 427, numY: 1045, unitX: 858, unitY: 1050,
    series: [comp(p5S3), comp(p5S1), comp(p5S2), meas(p5Data)] },
];

const toRows = (a: Pt[]) => a.map(([v, t]) => ({ v, t }));

const fmtY = (labels: number[]) => (v: number) => {
  const hit = labels.some((l) => Math.abs(l - v) < 1e-6);
  if (!hit) return '';
  return v >= 0.995 ? '1.00' : '.' + String(Math.round(v * 100));
};

const tickStyle = { fill: '#000', fontSize: 14, fontWeight: 700, fontFamily: TICK_FONT };

function Panel({ p }: { p: PanelSpec }) {
  const W = p.width + 61;
  const H = p.height + 40;
  return (
    <div style={{ position: 'absolute', left: p.left - 50, top: p.top - 10, width: W, height: H }}>
      <LineChart width={W} height={H} margin={{ top: 9, right: 10, bottom: 0, left: 0 }}>
        <XAxis xAxisId="b" type="number" dataKey="v" domain={[-15, 15]} ticks={X_TICKS} interval={0}
          allowDataOverflow height={30} tickSize={-5} tickMargin={15}
          axisLine={{ stroke: '#000', strokeWidth: 2.2 }} tickLine={{ stroke: '#000', strokeWidth: 1.5 }}
          tick={tickStyle} />
        <XAxis xAxisId="t" orientation="top" type="number" dataKey="v" domain={[-15, 15]} ticks={X_TICKS} interval={0}
          allowDataOverflow height={1} tickSize={-4} tick={false}
          axisLine={{ stroke: '#000', strokeWidth: 1.6 }} tickLine={{ stroke: '#000', strokeWidth: 1.2 }} />
        <YAxis yAxisId="l" type="number" domain={p.yDomain} ticks={p.yTicks} interval={0}
          allowDataOverflow width={50} tickSize={-4} tickMargin={7}
          axisLine={{ stroke: '#000', strokeWidth: 2.2 }} tickLine={{ stroke: '#000', strokeWidth: 1.2 }}
          tickFormatter={fmtY(p.yLabels)} tick={tickStyle} />
        <YAxis yAxisId="r" orientation="right" type="number" domain={p.yDomain} ticks={p.yTicks} interval={0}
          allowDataOverflow width={1} tickSize={-4} tick={false}
          axisLine={{ stroke: '#000', strokeWidth: 1.6 }} tickLine={{ stroke: '#000', strokeWidth: 1.2 }} />
        {p.series.map((s, i) => (
          <Line key={i} xAxisId="b" yAxisId="l" data={toRows(s.data)} dataKey="t" type={s.curve}
            stroke="#000" strokeWidth={s.w} dot={false} activeDot={false} isAnimationActive={false} />
        ))}
      </LineChart>
    </div>
  );
}

export default function App() {
  return (
    <div>
      {PANELS.map((p) => <Panel key={p.num} p={p} />)}
      <svg style={{ position: 'absolute', left: 0, top: 0, pointerEvents: 'none' }} width={1190} height={1178}>
        <text transform="translate(53,376) rotate(-90)" textAnchor="middle" fontFamily={MAIN_FONT} fontSize={44}
          textLength={598} lengthAdjust="spacing" fill="#000">
          Relative Transmission (%)
        </text>
        <text x={641} y={1163} textAnchor="middle" fontFamily={MAIN_FONT} fontSize={46} fill="#000">Velocity</text>
        {PANELS.map((p) => (
          <g key={'lab' + p.num}>
            <text x={p.numX} y={p.numY} textAnchor="middle" fontFamily={TICK_FONT} fontWeight={700} fontSize={27} fill="#000">{p.num}</text>
            <text x={p.unitX} y={p.unitY} textAnchor="middle" fontFamily={TICK_FONT} fontWeight={700} fontSize={14} fill="#000">MM / S</text>
          </g>
        ))}
      </svg>
    </div>
  );
}
